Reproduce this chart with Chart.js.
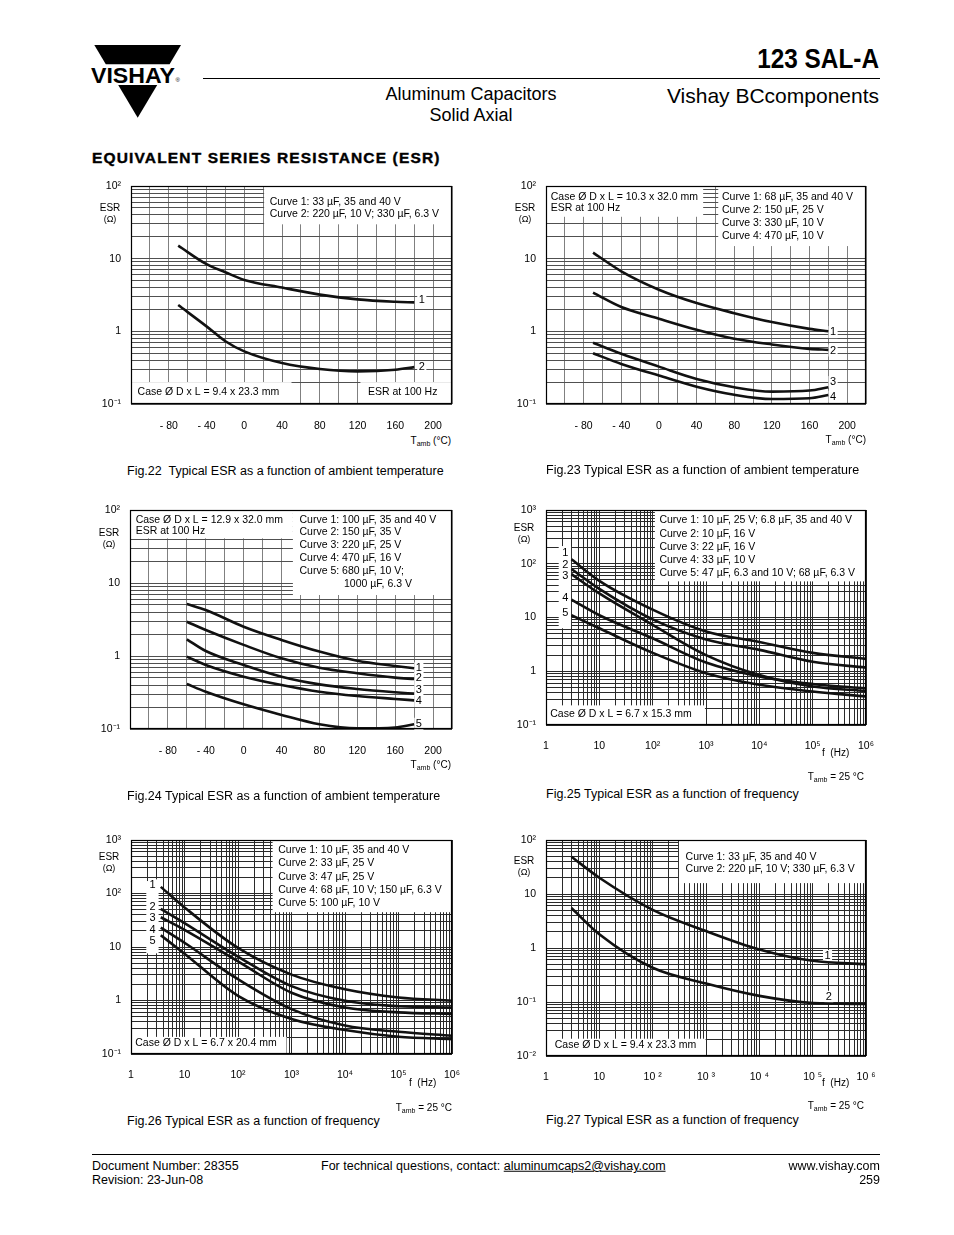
<!DOCTYPE html>
<html>
<head>
<meta charset="utf-8">
<script src="https://cdn.jsdelivr.net/npm/chart.js@4.4.1/dist/chart.umd.min.js"></script>
<style>
  body { margin: 0; background: #fff; }
  #page { position: relative; width: 954px; height: 1235px; overflow: hidden;
          font-family: "Liberation Sans", Arial, Helvetica, sans-serif; color: #000; }
  .t { position: absolute; white-space: nowrap; line-height: 1; transform: translateY(-50%); }
  .c { transform: translate(-50%, -50%); }
  .r { transform: translate(-100%, -50%); }
  .rule { position: absolute; background: #000; }
  canvas { position: absolute; }
  .lab { font-size: 10px; }
  .om { font-size: 9px; }
  .cap { font-size: 12.5px; }
  sub { font-size: 7px; vertical-align: -2px; }
</style>
</head>
<body>
<div id="page">
  <svg style="position:absolute;left:0;top:0" width="954" height="130">
    <polygon points="94.3,45 181,45 169.6,64.3 105.8,64.3" fill="#000"/>
    <text x="91" y="82.7" font-family="Liberation Sans, Arial" font-weight="bold" font-size="21.5" textLength="84" lengthAdjust="spacingAndGlyphs">VISHAY</text>
    <text x="175.5" y="82" font-family="Liberation Sans, Arial" font-size="6">®</text>
    <polygon points="118.2,85 157.2,85 137.7,117.7" fill="#000"/>
  </svg>

  <div class="t r" style="left:879px;top:59px;font-size:28px;font-weight:bold;transform:translate(-100%,-50%) scaleX(0.87);transform-origin:right center">123 SAL-A</div>
  <div class="rule" style="left:203px;top:78px;width:677px;height:1.3px"></div>
  <div class="t c" style="left:471px;top:94px;font-size:18px">Aluminum Capacitors</div>
  <div class="t c" style="left:471px;top:115px;font-size:18px">Solid Axial</div>
  <div class="t r" style="left:879px;top:95px;font-size:21px">Vishay BCcomponents</div>
  <div class="t" style="left:92px;top:158px;font-size:15.5px;font-weight:bold;letter-spacing:1.15px;-webkit-text-stroke:0.4px #000">EQUIVALENT SERIES RESISTANCE (ESR)</div>

  <canvas id="fig22" width="372" height="260" style="left:90px;top:174px"></canvas>
  <canvas id="fig23" width="372" height="260" style="left:505px;top:174px"></canvas>
  <canvas id="fig24" width="372" height="261" style="left:89px;top:498px"></canvas>
  <canvas id="fig25" width="372" height="257" style="left:505px;top:498px"></canvas>
  <canvas id="fig26" width="372" height="256" style="left:90px;top:828px"></canvas>
  <canvas id="fig27" width="372" height="258" style="left:505px;top:828px"></canvas>

  <!-- Fig.22 -->
  <div class="t c lab" style="left:110px;top:208px">ESR</div>
  <div class="t c om" style="left:110px;top:219px">(Ω)</div>
  <div class="t r lab" style="left:451px;top:441px">T<sub>amb</sub> (°C)</div>
  <div class="t cap" style="left:127px;top:471px">Fig.22&nbsp; Typical ESR as a function of ambient temperature</div>
  <!-- Fig.23 -->
  <div class="t c lab" style="left:525px;top:208px">ESR</div>
  <div class="t c om" style="left:525px;top:219px">(Ω)</div>
  <div class="t r lab" style="left:866px;top:440px">T<sub>amb</sub> (°C)</div>
  <div class="t cap" style="left:546px;top:470px">Fig.23 Typical ESR as a function of ambient temperature</div>
  <!-- Fig.24 -->
  <div class="t c lab" style="left:109px;top:533px">ESR</div>
  <div class="t c om" style="left:109px;top:544px">(Ω)</div>
  <div class="t r lab" style="left:451px;top:765px">T<sub>amb</sub> (°C)</div>
  <div class="t cap" style="left:127px;top:796px">Fig.24 Typical ESR as a function of ambient temperature</div>
  <!-- Fig.25 -->
  <div class="t c lab" style="left:524px;top:528px">ESR</div>
  <div class="t c om" style="left:524px;top:539px">(Ω)</div>
  <div class="t lab" style="left:822px;top:753px">f&nbsp; (Hz)</div>
  <div class="t r lab" style="left:864px;top:777px">T<sub>amb</sub> = 25 °C</div>
  <div class="t cap" style="left:546px;top:794px">Fig.25 Typical ESR as a function of frequency</div>
  <!-- Fig.26 -->
  <div class="t c lab" style="left:109px;top:857px">ESR</div>
  <div class="t c om" style="left:109px;top:868px">(Ω)</div>
  <div class="t lab" style="left:409px;top:1083px">f&nbsp; (Hz)</div>
  <div class="t r lab" style="left:452px;top:1108px">T<sub>amb</sub> = 25 °C</div>
  <div class="t cap" style="left:127px;top:1121px">Fig.26 Typical ESR as a function of frequency</div>
  <!-- Fig.27 -->
  <div class="t c lab" style="left:524px;top:861px">ESR</div>
  <div class="t c om" style="left:524px;top:872px">(Ω)</div>
  <div class="t lab" style="left:822px;top:1083px">f&nbsp; (Hz)</div>
  <div class="t r lab" style="left:864px;top:1106px">T<sub>amb</sub> = 25 °C</div>
  <div class="t cap" style="left:546px;top:1120px">Fig.27 Typical ESR as a function of frequency</div>

  <div class="rule" style="left:92px;top:1154px;width:788px;height:1.3px"></div>
  <div class="t" style="left:92px;top:1166px;font-size:12.5px">Document Number: 28355</div>
  <div class="t" style="left:92px;top:1180px;font-size:12.5px">Revision: 23-Jun-08</div>
  <div class="t" style="left:321px;top:1166px;font-size:12.5px">For technical questions, contact: <u>aluminumcaps2@vishay.com</u></div>
  <div class="t r" style="left:880px;top:1166px;font-size:12.5px">www.vishay.com</div>
  <div class="t r" style="left:880px;top:1180px;font-size:12.5px">259</div>
</div>

<script>
// ---- tick labels ----
const tempTicks = [-80, -40, 0, 40, 80, 120, 160, 200];
const tempTickText = ['- 80', '- 40', '0', '40', '80', '120', '160', '200'];
const decadeExp = [-2, -1, 0, 1, 2, 3, 4, 5, 6];
const decadeText = ['10⁻²', '10⁻¹', '1', '10', '10²', '10³', '10⁴', '10⁵', '10⁶'];
const decadeTextSpaced = ['10 ⁻²', '10 ⁻¹', '1', '10', '10 ²', '10 ³', '10 ⁴', '10 ⁵', '10 ⁶'];

// ---- Fig.22: ESR (ohm) vs T (degC), 9.4 x 23.3 mm ----
const fig22T = [-70, -40, -20, 0, 40, 80, 120, 160, 180];
const fig22C1 = [15.1, 8.4, 6.5, 5.1, 4.0, 3.2, 2.75, 2.55, 2.5];
const fig22C2 = [2.3, 1.17, 0.73, 0.53, 0.366, 0.303, 0.281, 0.296, 0.322];
const fig22Legend = ['Curve 1: 33 µF, 35 and 40 V', 'Curve 2: 220 µF, 10 V; 330 µF, 6.3 V'];

// ---- Fig.23: 10.3 x 32.0 mm ----
const fig23T = [-70, -40, 0, 40, 80, 120, 160, 180];
const fig23C1 = [12.1, 6.7, 3.74, 2.45, 1.78, 1.34, 1.08, 1.0];
const fig23C2 = [3.4, 2.16, 1.49, 1.05, 0.79, 0.66, 0.574, 0.556];
const fig23C3 = [0.695, 0.49, 0.327, 0.221, 0.17, 0.148, 0.153, 0.17];
const fig23C4 = [0.5, 0.356, 0.246, 0.173, 0.134, 0.117, 0.12, 0.133];
const fig23Legend = ['Curve 1: 68 µF, 35 and 40 V', 'Curve 2: 150 µF, 25 V', 'Curve 3: 330 µF, 10 V', 'Curve 4: 470 µF, 10 V'];

// ---- Fig.24: 12.9 x 32.0 mm ----
const fig24T = [-60, -40, 0, 40, 80, 120, 160, 180];
const fig24C1 = [5.15, 4.27, 2.52, 1.66, 1.15, 0.86, 0.73, 0.68];
const fig24C2 = [2.95, 2.27, 1.42, 0.93, 0.69, 0.58, 0.505, 0.484];
const fig24C3 = [1.69, 1.17, 0.753, 0.521, 0.409, 0.353, 0.318, 0.305];
const fig24C4 = [0.98, 0.753, 0.521, 0.40, 0.324, 0.283, 0.258, 0.247];
const fig24C5 = [0.413, 0.324, 0.218, 0.156, 0.116, 0.102, 0.105, 0.116];
const fig24Legend = ['Curve 1: 100 µF, 35 and 40 V', 'Curve 2: 150 µF, 35 V', 'Curve 3: 220 µF, 25 V', 'Curve 4: 470 µF, 16 V', 'Curve 5: 680 µF, 10 V;'];

// ---- Fig.25: ESR vs f (Hz), 6.7 x 15.3 mm ----
const fig25F = [3, 10, 100, 1000, 1e4, 1e5, 1e6];
const fig25C1 = [121, 48, 14, 5.5, 3.5, 2.2, 1.7];
const fig25C2 = [80, 34, 9.2, 3.9, 2.5, 1.5, 1.17];
const fig25C3 = [64, 28, 7.3, 2.0, 0.85, 0.52, 0.43];
const fig25C4 = [21.5, 11, 4.1, 1.45, 0.8, 0.58, 0.48];
const fig25C5 = [11, 6.3, 2.2, 0.92, 0.56, 0.42, 0.34];
const fig25Legend = ['Curve 1: 10 µF, 25 V; 6.8 µF, 35 and 40 V', 'Curve 2: 10 µF, 16 V', 'Curve 3: 22 µF, 16 V', 'Curve 4: 33 µF, 10 V', 'Curve 5: 47 µF, 6.3 and 10 V; 68 µF, 6.3 V'];

// ---- Fig.26: 6.7 x 20.4 mm ----
const fig26F = [3.6, 10, 100, 1000, 1e4, 1e5, 1e6];
const fig26C1 = [133, 55, 9.6, 3.05, 1.62, 1.14, 0.99];
const fig26C2 = [51.5, 28, 6.6, 1.86, 0.99, 0.78, 0.74];
const fig26C3 = [36, 21, 5.4, 1.4, 0.74, 0.6, 0.56];
const fig26C4 = [23, 12, 2.5, 0.69, 0.34, 0.26, 0.22];
const fig26C5 = [16.6, 7.5, 1.22, 0.45, 0.28, 0.21, 0.19];
const fig26Legend = ['Curve 1: 10 µF, 35 and 40 V', 'Curve 2: 33 µF, 25 V', 'Curve 3: 47 µF, 25 V', 'Curve 4: 68 µF, 10 V; 150 µF, 6.3 V', 'Curve 5: 100 µF, 10 V'];

// ---- Fig.27: 9.4 x 23.3 mm ----
const fig27F = [3, 10, 100, 1000, 1e4, 1e5, 1e6];
const fig27C1 = [49, 20, 5.1, 2.06, 0.94, 0.58, 0.5];
const fig27C2 = [5.5, 1.8, 0.43, 0.22, 0.13, 0.096, 0.092];
const fig27Legend = ['Curve 1: 33 µF, 35 and 40 V', 'Curve 2: 220 µF, 10 V; 330 µF, 6.3 V'];

const FONT = '"Liberation Sans", Arial, sans-serif';
Chart.defaults.font.family = FONT;
Chart.defaults.font.size = 10.5;
Chart.defaults.color = '#000';

// white note boxes, their texts, curve numbers and the plot frame
const notes = {
  id: 'notes',
  beforeDatasetsDraw(chart, args, o) {
    const ctx = chart.ctx, sx = chart.scales.x, sy = chart.scales.y;
    ctx.save();
    ctx.fillStyle = '#fff';
    (o.boxes || []).forEach(b => {
      const x0 = sx.getPixelForValue(b[0]), x1 = sx.getPixelForValue(b[1]);
      const y0 = sy.getPixelForValue(b[2]), y1 = sy.getPixelForValue(b[3]);
      ctx.fillRect(Math.min(x0, x1), Math.min(y0, y1), Math.abs(x1 - x0), Math.abs(y1 - y0));
    });
    ctx.font = '11px ' + FONT;
    (o.marks || []).forEach(m => {
      const x = sx.getPixelForValue(m[0]), y = sy.getPixelForValue(m[1]);
      const w = ctx.measureText(m[2]).width;
      ctx.fillRect(x - w / 2 - 1.5, y - 6, w + 3, 12);
    });
    ctx.restore();
  },
  afterDatasetsDraw(chart, args, o) {
    const ctx = chart.ctx, sx = chart.scales.x, sy = chart.scales.y, a = chart.chartArea;
    ctx.save();
    ctx.fillStyle = '#000';
    ctx.textBaseline = 'middle';
    ctx.font = '10.5px ' + FONT;
    ctx.textAlign = 'left';
    (o.texts || []).forEach(t => ctx.fillText(t[2], sx.getPixelForValue(t[0]), sy.getPixelForValue(t[1])));
    ctx.font = '11px ' + FONT;
    ctx.textAlign = 'center';
    (o.marks || []).forEach(m => ctx.fillText(m[2], sx.getPixelForValue(m[0]), sy.getPixelForValue(m[1])));
    ctx.strokeStyle = '#000';
    ctx.lineWidth = 1.2;
    ctx.strokeRect(a.left + 0.5, a.top + 0.5, a.right - a.left - 1, a.bottom - a.top - 1);
    ctx.restore();
  }
};
Chart.register(notes);

function logTicks(min, max) {
  const out = [];
  for (let e = Math.round(Math.log10(min)); e <= Math.round(Math.log10(max)); e++) {
    for (let m = 1; m <= 9; m++) {
      const v = Number((m * Math.pow(10, e)).toPrecision(6));
      if (v >= min && v <= max) out.push(v);
    }
  }
  return out;
}

function decadeLabel(v, texts) {
  const e = Math.log10(v);
  if (Math.abs(e - Math.round(e)) > 1e-6) return '';
  const i = decadeExp.indexOf(Math.round(e));
  return i < 0 ? '' : texts[i];
}

// fixed axis sizes, no automatic label padding: the plot area stays where the page needs it
function fitX(s) { s.height = 30; s.paddingLeft = 0; s.paddingRight = 0; }
function fitY(s) { s.width = 41; s.paddingTop = 0; s.paddingBottom = 0; }

function logAxis(min, max, texts, fit, color) {
  return {
    type: 'logarithmic', min, max,
    afterBuildTicks(s) { s.ticks = logTicks(min, max).map(v => ({ value: v })); },
    afterFit: fit,
    ticks: { autoSkip: false, maxRotation: 0, callback: v => decadeLabel(v, texts) },
    grid: { color, lineWidth: 1, drawTicks: false },
    border: { display: false }
  };
}

function tempAxis() {
  return {
    type: 'linear', min: -120, max: 220,
    afterBuildTicks(s) { const t = []; for (let v = -120; v <= 220; v += 20) t.push({ value: v }); s.ticks = t; },
    afterFit: fitX,
    ticks: { autoSkip: false, maxRotation: 0, padding: 16,
      callback: v => { const i = tempTicks.indexOf(Math.round(v)); return i < 0 ? '' : tempTickText[i]; } },
    grid: { color: '#808080', lineWidth: 1, drawTicks: false },
    border: { display: false }
  };
}

function freqAxis(texts) {
  const ax = logAxis(1, 1e6, texts, fitX, '#2a2a2a');
  ax.ticks.padding = 15;
  return ax;
}

function esrChart(id, xs, curves, xAxis, yMin, yMax, padRight, yColor, noteOpts) {
  const y = logAxis(yMin, yMax, decadeText, fitY, yColor);
  y.ticks.padding = 10;
  return new Chart(document.getElementById(id), {
    type: 'line',
    data: {
      datasets: curves.map(c => ({
        data: xs.map((x, i) => ({ x, y: c[i] })),
        borderColor: '#111', borderWidth: 2.6, pointRadius: 0,
        cubicInterpolationMode: 'monotone', fill: false
      }))
    },
    options: {
      responsive: false, animation: false, events: [],
      layout: { autoPadding: false, padding: { top: 12, right: padRight, left: 0, bottom: 0 } },
      plugins: { legend: { display: false }, tooltip: { enabled: false }, notes: noteOpts },
      scales: { x: xAxis, y }
    }
  });
}

esrChart('fig22', fig22T, [fig22C1, fig22C2], tempAxis(), 0.1, 100, 10, '#505050', {
  boxes: [[21, 220, 29.7, 100], [-120, 50, 0.1, 0.2], [123, 220, 0.1, 0.2]],
  texts: [[27, 59.7, fig22Legend[0]], [27, 40.8, fig22Legend[1]],
          [-113, 0.145, 'Case Ø D x L = 9.4 x 23.3 mm'], [131, 0.145, 'ESR at 100 Hz']],
  marks: [[188, 2.7, '1'], [188, 0.322, '2']]
});

esrChart('fig23', fig23T, [fig23C1, fig23C2, fig23C3, fig23C4], tempAxis(), 0.1, 100, 11, '#505050', {
  boxes: [[-120, 47, 37.7, 100], [63, 220, 14.9, 100]],
  texts: [[-115, 71, 'Case Ø D x L = 10.3 x 32.0 mm'], [-115, 49, 'ESR at 100 Hz'],
          [67, 71.3, fig23Legend[0]], [67, 46.7, fig23Legend[1]], [67, 30.6, fig23Legend[2]], [67, 20.4, fig23Legend[3]]],
  marks: [[185, 0.975, '1'], [185, 0.545, '2'], [185, 0.2, '3'], [185, 0.126, '4']]
});

esrChart('fig24', fig24T, [fig24C1, fig24C2, fig24C3, fig24C4, fig24C5], tempAxis(), 0.1, 100, 9, '#505050', {
  boxes: [[-120, 52, 40.9, 100], [52, 220, 6.85, 100]],
  texts: [[-114, 73, 'Case Ø D x L = 12.9 x 32.0 mm'], [-114, 51.5, 'ESR at 100 Hz'],
          [59, 73, fig24Legend[0]], [59, 49.4, fig24Legend[1]], [59, 33.2, fig24Legend[2]],
          [59, 21.8, fig24Legend[3]], [59, 14.6, fig24Legend[4]], [106, 9.6, '1000 µF, 6.3 V']],
  marks: [[185, 0.678, '1'], [185, 0.494, '2'], [185, 0.342, '3'], [185, 0.242, '4'], [185, 0.118, '5']]
});

esrChart('fig25', fig25F, [fig25C1, fig25C2, fig25C3, fig25C4, fig25C5], freqAxis(decadeText), 0.1, 1000, 11, '#2a2a2a', {
  boxes: [[110, 1e6, 47, 1000], [1.73, 2.95, 6.3, 213], [1, 955, 0.1, 0.232]],
  texts: [[134, 656, fig25Legend[0]], [134, 363, fig25Legend[1]], [134, 207, fig25Legend[2]],
          [134, 118, fig25Legend[3]], [134, 67, fig25Legend[4]], [1.2, 0.157, 'Case Ø D x L = 6.7 x 15.3 mm']],
  marks: [[2.3, 161, '1'], [2.3, 95, '2'], [2.3, 60, '3'], [2.3, 23.5, '4'], [2.3, 11.9, '5']]
});

esrChart('fig26', fig26F, [fig26C1, fig26C2, fig26C3, fig26C4, fig26C5], freqAxis(decadeText), 0.1, 1000, 10, '#2a2a2a', {
  boxes: [[443, 1e6, 44.7, 1000], [1.93, 3.28, 7.6, 171], [1, 807, 0.1, 0.209]],
  texts: [[565, 655, fig26Legend[0]], [565, 372, fig26Legend[1]], [565, 206, fig26Legend[2]],
          [565, 117, fig26Legend[3]], [565, 66, fig26Legend[4]], [1.2, 0.158, 'Case Ø D x L = 6.7 x 20.4 mm']],
  marks: [[2.53, 142, '1'], [2.53, 57, '2'], [2.53, 35, '3'], [2.53, 21, '4'], [2.53, 13.1, '5']]
});

esrChart('fig27', fig27F, [fig27C1, fig27C2], freqAxis(decadeTextSpaced), 0.01, 100, 11, '#2a2a2a', {
  boxes: [[311, 1e6, 15.9, 100], [1, 983, 0.01, 0.0209]],
  texts: [[414, 48, fig27Legend[0]], [414, 28.8, fig27Legend[1]], [1.46, 0.0158, 'Case Ø D x L = 9.4 x 23.3 mm']],
  marks: [[1.9e5, 0.71, '1'], [2e5, 0.125, '2']]
});
</script>
</body>
</html>
